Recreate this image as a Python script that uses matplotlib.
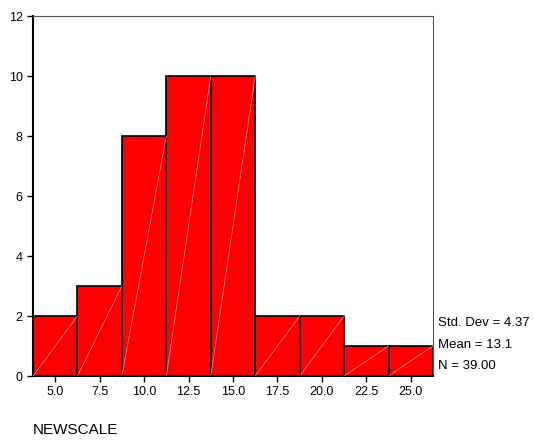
import matplotlib
matplotlib.use("Agg")
import matplotlib.pyplot as plt
import numpy as np

# histogram data (bin midpoints, counts)
midpoints = [5.0, 7.5, 10.0, 12.5, 15.0, 17.5, 20.0, 22.5, 25.0]
counts = [2, 3, 8, 10, 10, 2, 2, 1, 1]
binwidth = 2.5
stats_text = ["Std. Dev = 4.37", "Mean = 13.1", "N = 39.00"]
var_name = "NEWSCALE"

plt.rcParams['font.family'] = ['Liberation Sans', 'DejaVu Sans']

fig = plt.figure(figsize=(5.34, 4.42), dpi=100)
ax = fig.add_axes([0.0618, 0.1493, 0.749, 0.8145])

ax.bar(midpoints, counts, width=binwidth, color='#ff0000', edgecolor='black',
       linewidth=1.2, zorder=2)

# faint diagonal streaks in each bar
for m, c in zip(midpoints, counts):
    ax.plot([m - binwidth / 2, m + binwidth / 2], [0, c], color='#ff9a9a',
            linewidth=0.5, zorder=3)

ax.set_xlim(midpoints[0] - binwidth / 2, midpoints[-1] + binwidth / 2)
ax.set_ylim(0, 12)
ax.set_xticks(midpoints)
ax.set_xticklabels(["%.1f" % m for m in midpoints])
ax.set_yticks(np.arange(0, 13, 2))

ax.tick_params(axis='both', labelsize=9, length=4, width=1, color='black')
ax.spines['left'].set_linewidth(1.5)
ax.spines['bottom'].set_linewidth(1.5)
ax.spines['top'].set_color('#555555')
ax.spines['right'].set_color('#555555')

# stats box to the right
for i, s in enumerate(stats_text):
    fig.text(438 / 534, 1 - (323 + 21.5 * i) / 442, s, fontsize=9.5,
             va='center', ha='left')

fig.text(33 / 534, 1 - 430 / 442, var_name, fontsize=11, va='center', ha='left')

fig.savefig("out.png", dpi=100)
